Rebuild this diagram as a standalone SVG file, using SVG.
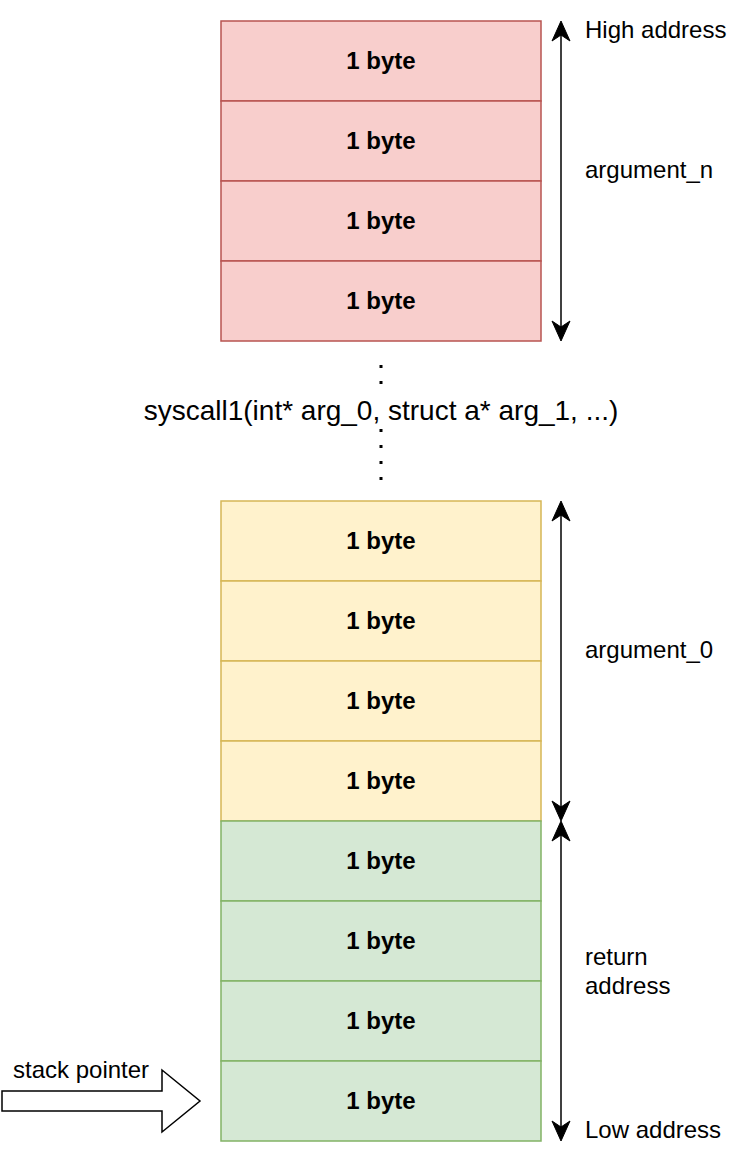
<svg xmlns="http://www.w3.org/2000/svg" width="740" height="1160" viewBox="0 0 740 1160">
<defs>
<style>
.red{fill:#f8cecc;stroke:#b85450;stroke-width:1.5}
.yel{fill:#fff2cc;stroke:#d6b656;stroke-width:1.5}
.grn{fill:#d5e8d4;stroke:#82b366;stroke-width:1.5}
.b{font-family:"Liberation Sans",Arial,sans-serif;font-weight:bold;font-size:24px;fill:#000;text-anchor:middle}
.l{font-family:"Liberation Sans",Arial,sans-serif;font-size:24px;fill:#000}
.ln{stroke:#000;stroke-width:1.5;fill:none}
.ah{fill:#000;stroke:#000;stroke-width:1}
</style>
</defs>
<rect width="740" height="1160" fill="#fff"/>
<g id="arg_n">
<g id="r1"><rect class="red" x="221" y="21" width="320" height="80"/><text class="b" x="381" y="68.5">1 byte</text></g>
<g id="r2"><rect class="red" x="221" y="101" width="320" height="80"/><text class="b" x="381" y="148.5">1 byte</text></g>
<g id="r3"><rect class="red" x="221" y="181" width="320" height="80"/><text class="b" x="381" y="228.5">1 byte</text></g>
<g id="r4"><rect class="red" x="221" y="261" width="320" height="80"/><text class="b" x="381" y="308.5">1 byte</text></g>
</g>
<g id="arg_0">
<g id="y1"><rect class="yel" x="221" y="501" width="320" height="80"/><text class="b" x="381" y="548.5">1 byte</text></g>
<g id="y2"><rect class="yel" x="221" y="581" width="320" height="80"/><text class="b" x="381" y="628.5">1 byte</text></g>
<g id="y3"><rect class="yel" x="221" y="661" width="320" height="80"/><text class="b" x="381" y="708.5">1 byte</text></g>
<g id="y4"><rect class="yel" x="221" y="741" width="320" height="80"/><text class="b" x="381" y="788.5">1 byte</text></g>
</g>
<g id="ret">
<g id="g1"><rect class="grn" x="221" y="821" width="320" height="80"/><text class="b" x="381" y="868.5">1 byte</text></g>
<g id="g2"><rect class="grn" x="221" y="901" width="320" height="80"/><text class="b" x="381" y="948.5">1 byte</text></g>
<g id="g3"><rect class="grn" x="221" y="981" width="320" height="80"/><text class="b" x="381" y="1028.5">1 byte</text></g>
<g id="g4"><rect class="grn" x="221" y="1061" width="320" height="80"/><text class="b" x="381" y="1108.5">1 byte</text></g>
</g>
<g id="connectors">
<line class="ln" x1="561" y1="27" x2="561" y2="335"/>
<path class="ah" d="M561,21 L570,41 L561,35 L552,41 Z"/>
<path class="ah" d="M561,341 L552,321 L561,327 L570,321 Z"/>
<line class="ln" x1="561" y1="507" x2="561" y2="815"/>
<path class="ah" d="M561,501 L570,521 L561,515 L552,521 Z"/>
<path class="ah" d="M561,821 L552,801 L561,807 L570,801 Z"/>
<line class="ln" x1="561" y1="827" x2="561" y2="1135"/>
<path class="ah" d="M561,821 L570,841 L561,835 L552,841 Z"/>
<path class="ah" d="M561,1141 L552,1121 L561,1127 L570,1121 Z"/>
<line x1="381" y1="365" x2="381" y2="481" stroke="#000" stroke-width="3" stroke-dasharray="3 13"/>
</g>
<g id="syscall">
<rect x="140" y="394" width="482" height="34" fill="#fff"/>
<text x="381" y="420" font-family="Liberation Sans, Arial, sans-serif" font-size="28" text-anchor="middle" fill="#000">syscall1(int* arg_0, struct a* arg_1, ...)</text>
</g>
<g id="labels">
<text class="l" x="585" y="38">High address</text>
<text class="l" x="585" y="178">argument_n</text>
<text class="l" x="585" y="658">argument_0</text>
<text class="l" x="585" y="965">return</text>
<text class="l" x="585" y="994">address</text>
<text class="l" x="585" y="1138">Low address</text>
</g>
<g id="stack_pointer">
<path d="M2,1091 L162,1091 L162,1070 L200,1101 L162,1132 L162,1111 L2,1111 Z" fill="#fff" stroke="#000" stroke-width="1.5"/>
<text class="l" x="13" y="1078">stack pointer</text>
</g>
</svg>
